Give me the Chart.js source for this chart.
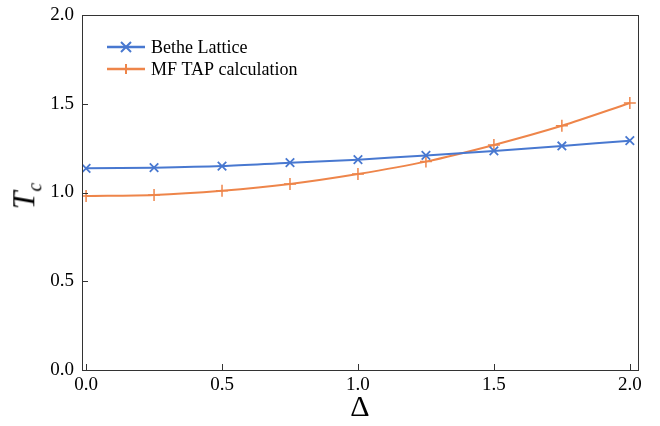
<!DOCTYPE html>
<html>
<head>
<meta charset="utf-8">
<script src="https://cdn.jsdelivr.net/npm/chart.js@4/dist/chart.umd.min.js"></script>
<style>
  html, body { margin: 0; padding: 0; background: #fff; }
  #wrap { position: relative; width: 660px; height: 426px; }
  #ytitle {
    position: absolute; left: 26px; top: 196px;
    transform: translate(-50%, -50%) rotate(-90deg);
    font-family: 'Liberation Serif', 'DejaVu Serif', serif;
    font-size: 32px; font-style: italic; white-space: nowrap; color: #000;
  }
  #ytitle sub { font-size: 20px; }
</style>
</head>
<body>
<div id="wrap">
  <canvas id="chart" width="660" height="426"></canvas>
  <div id="ytitle">T<sub>c</sub></div>
</div>
<script>
// ── Data ───────────────────────────────────────────
const deltas  = [0, 0.25, 0.5, 0.75, 1.0, 1.25, 1.5, 1.75, 2.0];
const bethe   = [1.136, 1.140, 1.149, 1.168, 1.185, 1.209, 1.234, 1.262, 1.292];
const mfTap   = [0.980, 0.986, 1.010, 1.048, 1.104, 1.174, 1.268, 1.376, 1.504];
const xTicks  = [0, 0.5, 1.0, 1.5, 2.0];
const yTicks  = [0, 0.5, 1.0, 1.5, 2.0];
const labels  = ['Bethe Lattice', 'MF TAP calculation'];

const BLUE   = '#4878d0';
const ORANGE = '#ee854a';
const FONT   = "'Liberation Serif', 'DejaVu Serif', serif";

const toXY = ys => deltas.map((x, i) => ({ x, y: ys[i] }));

// frame, inward ticks and legend
const decor = {
  id: 'decor',
  afterDraw(chart) {
    const { ctx, chartArea: a, scales } = chart;
    ctx.save();
    ctx.strokeStyle = '#333';
    ctx.lineWidth = 1;
    ctx.strokeRect(Math.round(a.left) + 0.5, Math.round(a.top) + 0.5,
                   Math.round(a.right - a.left), Math.round(a.bottom - a.top));
    ctx.beginPath();
    xTicks.forEach(v => {
      const px = Math.round(scales.x.getPixelForValue(v)) + 0.5;
      ctx.moveTo(px, a.bottom); ctx.lineTo(px, a.bottom - 6);
    });
    yTicks.forEach(v => {
      const py = Math.round(scales.y.getPixelForValue(v)) + 0.5;
      ctx.moveTo(a.left, py); ctx.lineTo(a.left + 6, py);
    });
    ctx.stroke();

    // legend
    chart.data.datasets.forEach((ds, i) => {
      const y = 47 + i * 22;
      const x0 = 107, x1 = 145;
      ctx.strokeStyle = ds.borderColor;
      ctx.lineWidth = 2.5;
      ctx.beginPath(); ctx.moveTo(x0, y); ctx.lineTo(x1, y); ctx.stroke();
      const cx = (x0 + x1) / 2, r = 5;
      ctx.lineWidth = 2;
      ctx.beginPath();
      if (ds.pointStyle === 'crossRot') {
        ctx.moveTo(cx - r, y - r); ctx.lineTo(cx + r, y + r);
        ctx.moveTo(cx - r, y + r); ctx.lineTo(cx + r, y - r);
      } else {
        ctx.moveTo(cx, y - r); ctx.lineTo(cx, y + r);
      }
      ctx.stroke();
      ctx.fillStyle = '#000';
      ctx.font = '18px ' + FONT;
      ctx.textBaseline = 'middle';
      ctx.fillText(ds.label, 151, y + 1);
    });
    ctx.restore();
  }
};

new Chart(document.getElementById('chart'), {
  type: 'line',
  data: {
    datasets: [
      {
        label: labels[0], data: toXY(bethe),
        borderColor: BLUE, backgroundColor: BLUE,
        borderWidth: 2, pointStyle: 'crossRot', pointRadius: 6,
        pointBorderWidth: 1.8, pointBorderColor: BLUE, tension: 0.3
      },
      {
        label: labels[1], data: toXY(mfTap),
        borderColor: ORANGE, backgroundColor: ORANGE,
        borderWidth: 2, pointStyle: 'cross', pointRadius: 6,
        pointBorderWidth: 1.5, pointBorderColor: ORANGE, tension: 0.3
      }
    ]
  },
  options: {
    responsive: false,
    animation: false,
    layout: { padding: { top: 15, right: 22, left: 0, bottom: 0 } },
    plugins: { legend: { display: false }, tooltip: { enabled: false } },
    scales: {
      x: {
        type: 'linear', min: -0.015, max: 2.03,
        afterBuildTicks: s => { s.ticks = xTicks.map(v => ({ value: v })); },
        afterFit: s => { s.height = 56; s.paddingLeft = 0; s.paddingRight = 0; },
        grid: { display: false, drawTicks: false, tickLength: 0 },
        border: { display: false },
        ticks: {
          color: '#000', padding: 4,
          font: { family: FONT, size: 19 },
          callback: v => v.toFixed(1)
        },
        title: {
          display: true, text: 'Δ', color: '#000',
          font: { family: FONT, size: 30 }, padding: { top: 0, bottom: 0 }
        }
      },
      y: {
        type: 'linear', min: 0, max: 2,
        afterBuildTicks: s => { s.ticks = yTicks.map(v => ({ value: v })); },
        afterFit: s => { s.width = 82; s.paddingTop = 0; s.paddingBottom = 0; },
        grid: { display: false, drawTicks: false, tickLength: 0 },
        border: { display: false },
        ticks: {
          color: '#000', padding: 8,
          font: { family: FONT, size: 19 },
          callback: v => v.toFixed(1)
        }
      }
    }
  },
  plugins: [decor]
});
</script>
</body>
</html>
